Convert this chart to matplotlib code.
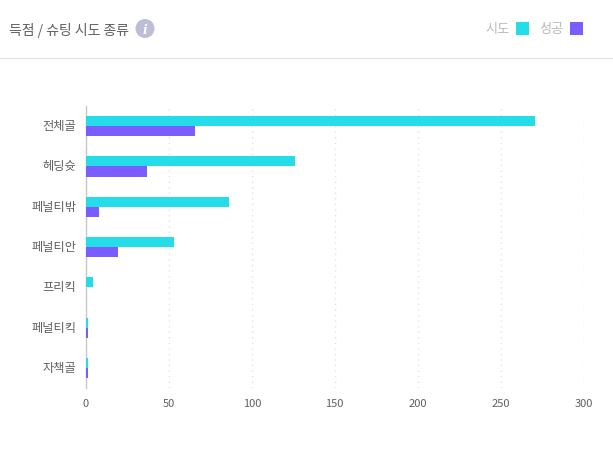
import matplotlib
matplotlib.use('Agg')
import matplotlib.pyplot as plt
from matplotlib.patches import Rectangle, Circle
from matplotlib.transforms import ScaledTranslation
import numpy as np

plt.rcParams['font.family'] = ['Noto Sans CJK KR', 'DejaVu Sans']

categories = ['전체골', '헤딩슛', '페널티밖', '페널티안', '프리킥', '페널티킥', '자책골']
attempts = [271, 126, 86, 53, 4, 1, 1]
goals = [66, 37, 8, 19, 0, 1, 1]
x_ticks = [0, 50, 100, 150, 200, 250, 300]

W, H = 613, 456
CYAN = '#25dde8'
PURPLE = '#7a5cff'


def fx(px):
    return px / W


def fy(py):
    return 1 - py / H


fig = plt.figure(figsize=(W / 100, H / 100), dpi=100, facecolor='white')

# plot area in pixels: left 86, right 583.5 at 300, top 107, bottom 389
ax = fig.add_axes([fx(86), fy(389), fx(583.5 - 86), (389 - 107) / H])
y = np.arange(len(categories))
bar_h = 0.25
ax.barh(y - bar_h / 2, attempts, height=bar_h, color=CYAN, zorder=3)
ax.barh(y + bar_h / 2, goals, height=bar_h, color=PURPLE, zorder=3)

ax.set_xlim(0, 300)
ax.set_ylim(len(categories) - 0.5, -0.5)
ax.set_yticks(y, categories)
ax.set_xticks(x_ticks)
ax.tick_params(axis='both', length=0, labelcolor='#5f5f5f')
ax.tick_params(axis='y', pad=7, labelsize=8.8)
ax.tick_params(axis='x', pad=7, labelsize=8)
ax.grid(True, axis='x', linestyle=(0, (1, 3)), color='#e2e2e2', linewidth=1, zorder=0)
for side in ['top', 'right', 'bottom']:
    ax.spines[side].set_visible(False)
ax.spines['left'].set_color('#c8c8c8')
ax.spines['left'].set_linewidth(1)

# nudge category labels up to sit where the original has them
up = ScaledTranslation(0, 2 / 100, fig.dpi_scale_trans)
for lab in ax.get_yticklabels():
    lab.set_transform(lab.get_transform() + up)

# header
fig.text(fx(9), fy(30), '득점 / 슈팅 시도 종류', fontsize=10, color='#5f5f5f', va='center', ha='left')
fig.add_artist(plt.Line2D([0, 1], [fy(58.5), fy(58.5)], color='#e6e6e6', linewidth=1))

# info icon
fig.add_artist(Circle((145, H - 29.5), 9.5, transform=None, facecolor='#bdbdd7', edgecolor='none'))
fig.text(fx(145), fy(30), 'i', fontsize=9, color='white', fontweight='bold', style='italic',
         family='DejaVu Serif', va='center', ha='center')

# legend
for label, color, text_x, box_x in [('시도', CYAN, 485, 516), ('성공', PURPLE, 539, 570)]:
    fig.text(fx(text_x), fy(30), label, fontsize=9.5, color='#bbbbbb', va='center', ha='left')
    fig.add_artist(Rectangle((box_x, H - 36), 13, 13, transform=None, facecolor=color, edgecolor='none'))

fig.savefig('out.png', dpi=100)
